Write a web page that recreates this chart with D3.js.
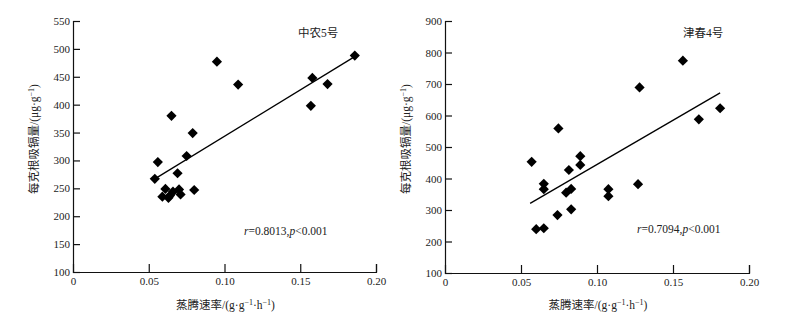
<!DOCTYPE html>
<html>
<head>
<meta charset="utf-8">
<script src="https://cdn.jsdelivr.net/npm/d3@7"></script>
<style>
  body { margin: 0; background: #fff; }
  svg { display: block; }
  .tick text { font-family: "Liberation Serif", "Times New Roman", serif; font-size: 11px; fill: #222; }
</style>
</head>
<body>
<svg id="chart" width="805" height="321"></svg>
<script>
// 中农5号
const zhongX = [0.186, 0.095, 0.109, 0.158, 0.168, 0.157, 0.065, 0.079, 0.075, 0.056, 0.069, 0.054, 0.080,
                0.061, 0.059, 0.063, 0.066, 0.070, 0.071, 0.064];
const zhongY = [488, 477, 436, 448, 437, 398, 380, 349, 308, 297, 277, 267, 247,
                249, 235, 233, 244, 248, 239, 237];
const zhongFit = [[0.054, 267], [0.187, 488]];

// 津春4号
const jinX = [0.1565, 0.128, 0.181, 0.167, 0.0746, 0.057, 0.089, 0.089, 0.0815, 0.065, 0.065, 0.0797, 0.083,
              0.1075, 0.1075, 0.127, 0.083, 0.074, 0.060, 0.065];
const jinY = [774, 689, 623, 588, 559, 453, 471, 443, 427, 383, 366, 355, 367,
              366, 344, 382, 302, 284, 239, 242];
const jinFit = [[0.056, 321], [0.181, 672]];

const xTicks = [0, 0.05, 0.10, 0.15, 0.20];
const zhongTicks = [100, 150, 200, 250, 300, 350, 400, 450, 500, 550];
const jinTicks = [100, 200, 300, 400, 500, 600, 700, 800, 900];

const svg = d3.select("#chart");
const serif = '"Liberation Serif", "Noto Sans CJK SC", serif';

let drawPanel = (opt) => {
    const g = svg.append("g");
    const x = d3.scaleLinear().domain([0, 0.2]).range([opt.left, opt.right]);
    const y = d3.scaleLinear().domain(opt.yDomain).range([opt.bottom, opt.top]);

    const xAxis = g.append("g")
        .attr("transform", `translate(0,${opt.bottom})`)
        .call(d3.axisBottom(x).tickValues(xTicks).tickSize(-8).tickPadding(5)
            .tickFormat(d => d === 0 ? "0" : d.toFixed(2)));
    xAxis.selectAll(".tick").filter(d => d === 0).select("line").remove();

    const yAxis = g.append("g")
        .attr("transform", `translate(${opt.left},0)`)
        .call(d3.axisLeft(y).tickValues(opt.yTicks).tickSize(-7).tickPadding(3));

    g.selectAll(".domain").attr("stroke", "#111").attr("stroke-width", 1.2);
    g.selectAll(".tick line").attr("stroke", "#111").attr("stroke-width", 1.2);

    // fit line
    g.append("line")
        .attr("x1", x(opt.fit[0][0])).attr("y1", y(opt.fit[0][1]))
        .attr("x2", x(opt.fit[1][0])).attr("y2", y(opt.fit[1][1]))
        .attr("stroke", "#000").attr("stroke-width", 1.3);

    const pts = opt.xs.map((v, i) => ({ x: v, y: opt.ys[i] }));
    g.selectAll(".dot")
        .data(pts)
        .enter()
        .append("path")
        .attr("class", "dot")
        .attr("d", d3.symbol(d3.symbolSquare, 52))
        .attr("transform", d => `translate(${x(d.x)},${y(d.y)}) rotate(45)`)
        .attr("fill", "#000");

    // variety name
    g.append("text")
        .attr("x", opt.nameX).attr("y", 37)
        .style("font-family", serif).style("font-size", "11.5px").attr("fill", "#222")
        .text(opt.name);

    // stats
    const st = g.append("text")
        .attr("x", opt.statX).attr("y", opt.statY)
        .style("font-family", serif).style("font-size", "11.5px").attr("fill", "#222");
    st.append("tspan").style("font-style", "italic").text("r");
    st.append("tspan").text("=" + opt.r + ",");
    st.append("tspan").style("font-style", "italic").text("p");
    st.append("tspan").text("<0.001");

    // x title
    const xt = g.append("text")
        .attr("x", (opt.left + opt.right) / 2 + 1).attr("y", 309)
        .attr("text-anchor", "middle")
        .style("font-family", serif).style("font-size", "11.5px").attr("fill", "#222");
    xt.append("tspan").text("蒸腾速率/(g·g");
    xt.append("tspan").attr("dy", -4).style("font-size", "8px").text("−1");
    xt.append("tspan").attr("dy", 4).text("·h");
    xt.append("tspan").attr("dy", -4).style("font-size", "8px").text("−1");
    xt.append("tspan").attr("dy", 4).text(")");

    // y title
    const yt = g.append("text")
        .attr("transform", `translate(${opt.yTitleX},139) rotate(-90)`)
        .attr("text-anchor", "middle")
        .style("font-family", serif).style("font-size", "11.5px").attr("fill", "#222");
    yt.append("tspan").text("每克根吸镉量/(μg·g");
    yt.append("tspan").attr("dy", -4).style("font-size", "8px").text("−1");
    yt.append("tspan").attr("dy", 4).text(")");
};

drawPanel({
    left: 73, right: 376, top: 21, bottom: 272,
    yDomain: [100, 550], yTicks: zhongTicks,
    xs: zhongX, ys: zhongY, fit: zhongFit,
    name: "中农5号", nameX: 298, r: "0.8013", statX: 244, statY: 235, yTitleX: 38
});

drawPanel({
    left: 445, right: 749, top: 21, bottom: 273,
    yDomain: [100, 900], yTicks: jinTicks,
    xs: jinX, ys: jinY, fit: jinFit,
    name: "津春4号", nameX: 683, r: "0.7094", statX: 637, statY: 233, yTitleX: 410
});
</script>
</body>
</html>
